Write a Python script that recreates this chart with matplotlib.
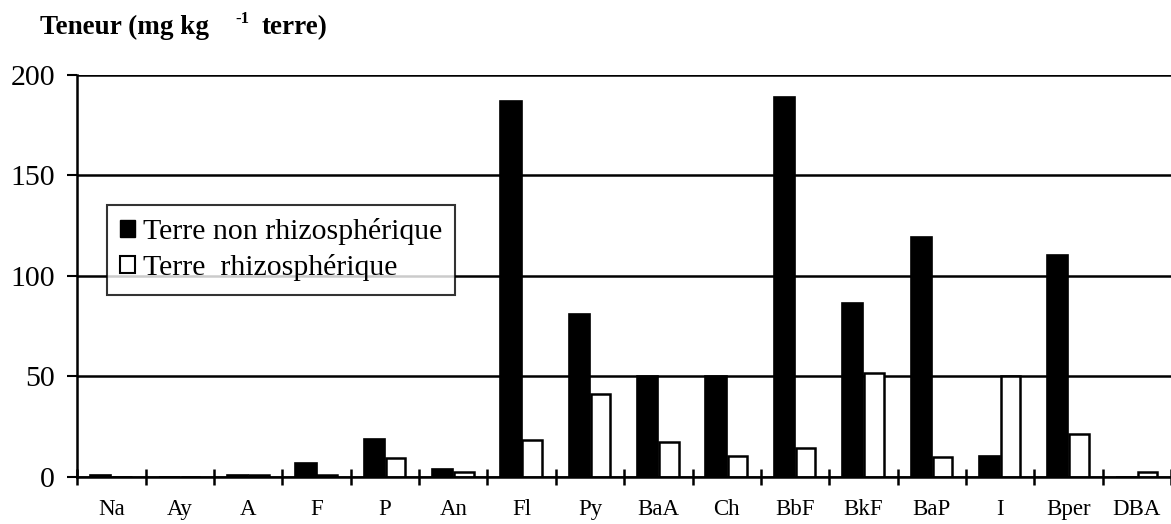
import numpy as np
import matplotlib
matplotlib.use("Agg")
from matplotlib import pyplot as plt
from matplotlib.patches import Patch

# HAP contents in soil (mg per kg of soil)
compounds = ['Na', 'Ay', 'A', 'F', 'P', 'An', 'Fl', 'Py', 'BaA', 'Ch',
             'BbF', 'BkF', 'BaP', 'I', 'Bper', 'DBA']
non_rhizo = [1.2, 0.0, 1.0, 6.8, 18.8, 4.2, 187.2, 81.1, 50.0, 50.0,
             189.2, 86.4, 119.6, 10.4, 110.4, 0.0]
rhizo = [0.0, 0.0, 1.0, 1.2, 9.3, 2.6, 18.4, 41.3, 17.3, 10.6,
         14.6, 51.9, 10.1, 50.0, 21.4, 2.3]

plt.rcParams['font.family'] = ['Liberation Serif', 'DejaVu Serif']

fig = plt.figure(figsize=(11.71, 5.24), dpi=100)
ax = fig.add_axes([0.066, 0.0897, 0.934, 0.7672])

x = np.arange(len(compounds))
w = 0.31
ax.bar(x - w / 2, non_rhizo, width=w, color='black', edgecolor='black',
       linewidth=1.2, zorder=3)
ax.bar(x + w / 2, rhizo, width=w * 0.92, align='center', color='white',
       edgecolor='black', linewidth=1.8, zorder=3)

ax.set_xlim(-0.5, len(compounds) - 0.5)
ax.set_ylim(0, 200)
ax.set_yticks([0, 50, 100, 150, 200])
ax.yaxis.grid(True, color='black', linewidth=1.8, zorder=1)
ax.set_axisbelow(True)

# boundaries between categories as ticks, names centred below
ax.set_xticks(np.arange(len(compounds) + 1) - 0.5)
ax.set_xticklabels([])
ax.set_xticks(x, minor=True)
ax.set_xticklabels(compounds, minor=True, fontsize=16.5)
ax.tick_params(axis='x', which='major', direction='inout', length=12,
               width=1.8)
ax.tick_params(axis='x', which='minor', length=0, pad=16)
ax.tick_params(axis='y', direction='out', length=7, width=1.5,
               labelsize=21.5, pad=9)

for side in ['top', 'right']:
    ax.spines[side].set_visible(False)
for side in ['left', 'bottom']:
    ax.spines[side].set_linewidth(1.8)
    ax.spines[side].set_zorder(4)

handles = [Patch(facecolor='black', edgecolor='black'),
           Patch(facecolor='white', edgecolor='black', linewidth=1.5)]
leg = ax.legend(handles, ['Terre non rhizosphérique', 'Terre  rhizosphérique'],
                loc='upper left', bbox_to_anchor=(0.027, 0.677),
                fontsize=21.5, frameon=True, fancybox=False,
                handlelength=0.5, handleheight=0.5, handletextpad=0.25,
                borderpad=0.45, labelspacing=0.3, borderaxespad=0)
leg.get_frame().set_edgecolor('black')
leg.get_frame().set_linewidth(1.5)
leg.set_zorder(5)

# y-axis title with superscript exponent
fig.text(40 / 1171, 1 - 34 / 524, 'Teneur (mg kg', fontsize=19.5,
         fontweight='bold', ha='left', va='baseline')
fig.text(235 / 1171, 1 - 23 / 524, '-1', fontsize=12,
         fontweight='bold', ha='left', va='baseline')
fig.text(262 / 1171, 1 - 34 / 524, 'terre)', fontsize=19.5,
         fontweight='bold', ha='left', va='baseline')

fig.savefig('out.png', dpi=100)
